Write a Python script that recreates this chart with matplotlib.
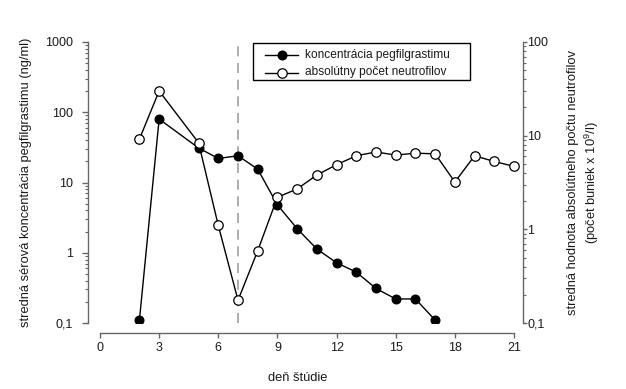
import matplotlib
matplotlib.use("Agg")
import matplotlib.pyplot as plt
from matplotlib.lines import Line2D
from matplotlib.patches import Rectangle

plt.rcParams['font.family'] = ['Liberation Sans', 'DejaVu Sans']
plt.rcParams['mathtext.fontset'] = 'custom'
plt.rcParams['mathtext.rm'] = 'Liberation Sans'
plt.rcParams['mathtext.it'] = 'Liberation Sans'

# Data
conc_days = [2, 3, 5, 6, 7, 8, 9, 10, 11, 12, 13, 14, 15, 16, 17]
conc_vals = [0.11, 80, 31, 22, 24, 15.5, 4.8, 2.2, 1.13, 0.72, 0.53, 0.31, 0.22, 0.22, 0.11]
anc_days = [2, 3, 5, 6, 7, 8, 9, 10, 11, 12, 13, 14, 15, 16, 17, 18, 19, 20, 21]
anc_vals = [9.2, 30, 8.4, 1.1, 0.175, 0.59, 2.2, 2.7, 3.8, 4.9, 6.1, 6.7, 6.2, 6.5, 6.4, 3.2, 6.1, 5.3, 4.7]
x_ticks = [0, 3, 6, 9, 12, 15, 18, 21]
left_ticks = [0.1, 1, 10, 100, 1000]
left_labels = ["0,1", "1", "10", "100", "1000"]
right_ticks = [0.1, 1, 10, 100]
right_labels = ["0,1", "1", "10", "100"]
marker_day = 7
xlabel = "deň štúdie"
ylabel_left = "stredná sérová koncentrácia pegfilgrastimu (ng/ml)"
ylabel_right = "stredná hodnota absolútneho počtu neutrofilov\n(počet buniek x 10$^{9}$/l)"
legend_labels = ["koncentrácia pegfilgrastimu", "absolútny počet neutrofilov"]

W, H = 626, 389
fig = plt.figure(figsize=(W / 100, H / 100), dpi=100)
axL, axR_px, axB, axT = 88, 523, 323, 42
aw, ah = axR_px - axL, axB - axT
ax = fig.add_axes([axL / W, 1 - axB / H, aw / W, ah / H])
ax2 = ax.twinx()

spine_col = '#666666'
txt_col = '#1a1a1a'
fs_tick = 9
fs_lab = 9.3
fs_leg = 8.6
ms_fill, ms_open = 6.2, 6.8

px_per_day = (514 - 100) / 21
xmin = -(100 - axL) / px_per_day
xmax = 21 + (axR_px - 514) / px_per_day
ax.set_xlim(xmin, xmax)

ax.set_yscale('log')
ax.set_ylim(0.1, 1000)
ax2.set_yscale('log')
ax2.set_ylim(0.1, 100)

ax.axvline(marker_day, ymin=0, ymax=1, color='#a0a0a0', linestyle=(0, (6, 4)), linewidth=1.2, zorder=1)

ax.plot(conc_days, conc_vals, color='black', linewidth=1.0, marker='o', markersize=ms_fill,
        markerfacecolor='black', markeredgecolor='black', zorder=3)
ax2.plot(anc_days, anc_vals, color='black', linewidth=1.0, marker='o', markersize=ms_open,
         markerfacecolor='white', markeredgecolor='black', markeredgewidth=0.9, zorder=3)

for a in (ax, ax2):
    a.spines['top'].set_visible(False)
    a.patch.set_visible(False)
ax.spines['right'].set_visible(False)
ax2.spines['left'].set_visible(False)
ax2.spines['bottom'].set_visible(False)

ax.spines['bottom'].set_position(('outward', 7))
ax.spines['bottom'].set_bounds(0, 21)
for s in (ax.spines['left'], ax.spines['bottom'], ax2.spines['right']):
    s.set_color(spine_col)
    s.set_linewidth(1.0)

ax.set_xticks(x_ticks)
ax.set_xticklabels([str(t) for t in x_ticks])
ax.tick_params(axis='x', direction='out', length=3.5, width=1, color=spine_col,
               labelsize=fs_tick, labelcolor=txt_col, pad=3)

ax.set_yticks(left_ticks)
ax.set_yticklabels(left_labels)
ax.tick_params(axis='y', which='major', direction='out', length=4, width=1, color=spine_col,
               labelsize=fs_tick, labelcolor=txt_col, pad=7)
ax.tick_params(axis='y', which='minor', direction='out', length=2.5, width=0.8, color=spine_col)

ax2.set_yticks(right_ticks)
ax2.set_yticklabels(right_labels)
ax2.tick_params(axis='y', which='major', direction='out', length=3, width=1, color=spine_col,
                labelsize=fs_tick, labelcolor=txt_col, pad=0)
ax2.tick_params(axis='y', which='minor', direction='out', length=2.5, width=0.8, color=spine_col)

ax.set_xlabel(xlabel, fontsize=fs_lab, color=txt_col)
ax.xaxis.set_label_coords((298 - axL) / aw, -(372 - axB) / ah)
ax.set_ylabel(ylabel_left, fontsize=fs_lab, color=txt_col)
ax.yaxis.set_label_coords(-(axL - 32) / aw, 0.5)
ax2.set_ylabel(ylabel_right, fontsize=fs_lab, color=txt_col, linespacing=1.3)
ax2.yaxis.set_label_coords((567 - axL) / aw, 0.5)

# Legend drawn as a boxed key (pixel layout converted to figure fractions)
def fx(px):
    return px / W

def fy(py):
    return 1 - py / H

fig.add_artist(Rectangle((fx(253), fy(80)), fx(470) - fx(253), fy(43) - fy(80),
                         transform=fig.transFigure, facecolor='white',
                         edgecolor='black', linewidth=1.0, zorder=5))
styles = [dict(markerfacecolor='black', markersize=ms_fill),
          dict(markerfacecolor='white', markersize=ms_open, markeredgewidth=0.9)]
for row_y, label, st in zip([55, 72.5], legend_labels, styles):
    fig.add_artist(Line2D([fx(265), fx(298)], [fy(row_y), fy(row_y)],
                          transform=fig.transFigure, color='black', linewidth=1.0, zorder=6))
    fig.add_artist(Line2D([fx(281.5)], [fy(row_y)], transform=fig.transFigure,
                          marker='o', markeredgecolor='black', linestyle='none', zorder=7, **st))
    fig.text(fx(305), fy(row_y), label, fontsize=fs_leg, color=txt_col,
             ha='left', va='center', zorder=7)

fig.savefig("out.png", dpi=100)
